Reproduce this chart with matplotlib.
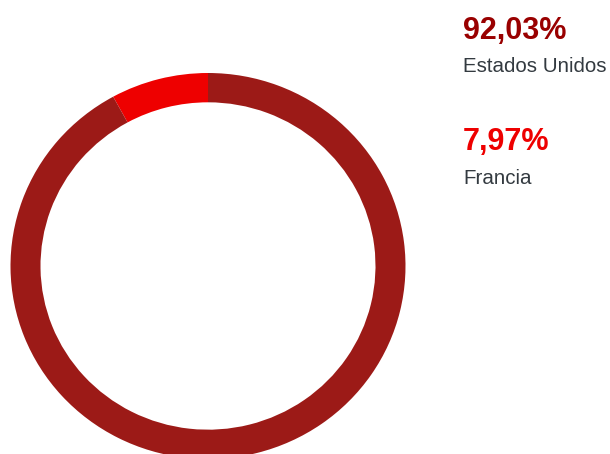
import matplotlib.pyplot as plt

countries = ["Francia", "Estados Unidos"]
shares = [7.97, 92.03]
colors = ["#EE0000", "#9C1A17"]
label_colors = ["#EE0000", "#990000"]

W, H = 610, 454
fig = plt.figure(figsize=(W / 100, H / 100), dpi=100)

# donut axes: pixel units in x, y slightly stretched (ring is a bit flattened)
sy = 197.5 / 193
ax = fig.add_axes([0, 0, 1, 1])
ax.pie(shares, colors=colors, startangle=90, counterclock=True,
       center=(208, (H - 266) * sy), radius=197.5,
       wedgeprops=dict(width=30, linewidth=0))
ax.set_aspect("auto")
ax.set_xlim(0, W)
ax.set_ylim(0, H * sy)
ax.axis("off")

# legend on the right, largest first (pixel coordinates)
tx = fig.add_axes([0, 0, 1, 1])
tx.set_xlim(0, W)
tx.set_ylim(H, 0)
tx.axis("off")
font = "Liberation Sans"
for i, idx in enumerate([1, 0]):
    y0 = 39 + i * 111
    tx.text(463, y0, f"{shares[idx]:.2f}%".replace(".", ","),
            color=label_colors[idx], fontsize=22, fontweight="bold",
            family=font, va="baseline", ha="left")
    tx.text(463, y0 + 33.5, countries[idx], color="#333a40",
            fontsize=14.8, family=font, va="baseline", ha="left")

fig.savefig("out.png", dpi=100)
